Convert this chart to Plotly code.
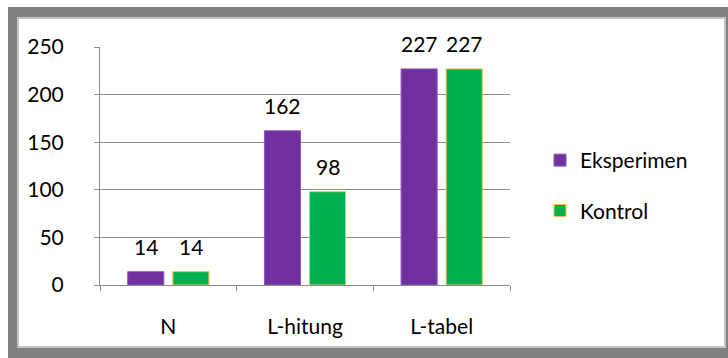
import plotly.graph_objects as go

categories = ["N", "L-hitung", "L-tabel"]
eksperimen = [14, 162, 227]
kontrol = [14, 98, 227]
series_names = ["Eksperimen", "Kontrol"]
y_ticks = [0, 50, 100, 150, 200, 250]

PURPLE = "#7030A0"
GREEN = "#00B050"
FONT = "Lato"
FS = 21

fig = go.Figure()
fig.add_trace(go.Bar(x=categories, y=eksperimen, name=series_names[0], legendgroup="a",
                     marker=dict(color=PURPLE, line=dict(color="#8a5bb5", width=1))))
fig.add_trace(go.Bar(x=categories, y=kontrol, name=series_names[1], legendgroup="b",
                     marker=dict(color=GREEN, line=dict(color="#F2C040", width=1))))

# value labels above bars
for vals, shift in ((eksperimen, -22.5), (kontrol, 22.5)):
    for c, v in zip(categories, vals):
        fig.add_annotation(x=c, y=v, xref="x", yref="y", text=str(v), showarrow=False,
                           xshift=shift, yanchor="bottom", yshift=11,
                           font=dict(family=FONT, size=FS, color="black"))

# frame: gray border with white inner panel
def px_x(p):
    return (p - 100) / 410.0

def px_y(p):
    return (285 - p) / 238.0

fig.add_shape(type="rect", xref="paper", yref="paper", layer="below",
              x0=px_x(8), x1=px_x(760), y0=px_y(7), y1=px_y(400),
              fillcolor="#808080", line=dict(width=0))
fig.add_shape(type="rect", xref="paper", yref="paper", layer="below",
              x0=px_x(18), x1=px_x(725), y0=px_y(18), y1=px_y(347),
              fillcolor="white", line=dict(color="#c4c4c4", width=2))

fig.update_layout(
    width=728, height=358,
    margin=dict(l=100, r=218, t=47, b=73),
    paper_bgcolor="white", plot_bgcolor="white",
    barmode="group", bargap=0.34, bargroupgap=0.2,
    font=dict(family=FONT, size=FS, color="black"),
    showlegend=True,
    legend=dict(x=px_x(540), y=px_y(140), xanchor="left", yanchor="top",
                tracegroupgap=20, font=dict(family=FONT, size=FS, color="black"),
                bgcolor="rgba(0,0,0,0)", itemwidth=30),
    xaxis=dict(showline=True, linecolor="#8c8c8c", linewidth=1,
               ticks="outside", tickson="boundaries", ticklen=5, tickcolor="#8c8c8c",
               showgrid=False, ticklabelstandoff=23),
    yaxis=dict(range=[0, 250], tickvals=y_ticks, showline=True, linecolor="#8c8c8c",
               linewidth=1, ticks="outside", ticklen=5, tickcolor="#8c8c8c",
               showgrid=True, gridcolor="#8c8c8c", gridwidth=1, zeroline=False,
               ticklabelstandoff=26),
)

fig.write_html("out.html")
